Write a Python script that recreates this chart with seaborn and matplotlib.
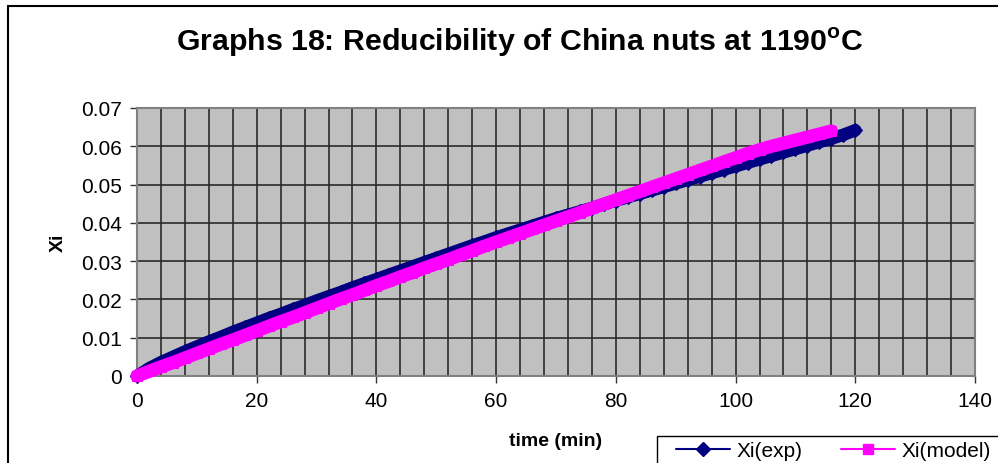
import matplotlib
matplotlib.use("Agg")
import matplotlib.pyplot as plt
import seaborn as sns
import pandas as pd
from matplotlib.ticker import MultipleLocator, FuncFormatter
from matplotlib.lines import Line2D
from matplotlib.patches import Rectangle

# ---- data ----
time_exp = [0, 2, 4, 6, 8, 10, 12, 14, 16, 18, 20, 22, 24, 26, 28, 30, 32, 34, 36, 38,
            40, 42, 44, 46, 48, 50, 52, 54, 56, 58, 60, 62, 64, 66, 68, 70, 72, 74, 76, 78,
            80, 82, 84, 86, 88, 90, 92, 94, 96, 98, 100, 102, 104, 106, 108, 110, 112, 114,
            116, 118, 120]
xi_exp = [0.0000, 0.0020, 0.0036, 0.0050, 0.0064, 0.0077, 0.0090, 0.0102, 0.0115, 0.0127,
          0.0139, 0.0151, 0.0162, 0.0174, 0.0185, 0.0197, 0.0208, 0.0219, 0.0231, 0.0242,
          0.0253, 0.0264, 0.0275, 0.0286, 0.0297, 0.0308, 0.0319, 0.0330, 0.0341, 0.0351,
          0.0362, 0.0372, 0.0382, 0.0392, 0.0402, 0.0412, 0.0421, 0.0430, 0.0439, 0.0449,
          0.0458, 0.0467, 0.0476, 0.0485, 0.0494, 0.0503, 0.0512, 0.0521, 0.0530, 0.0539,
          0.0548, 0.0557, 0.0566, 0.0575, 0.0584, 0.0593, 0.0602, 0.0611, 0.0620, 0.0630,
          0.0642]

time_model = [0, 2, 4, 6, 8, 10, 12, 14, 16, 18, 20, 22, 24, 26, 28, 30, 32, 34, 36, 38,
              40, 42, 44, 46, 48, 50, 52, 54, 56, 58, 60, 62, 64, 66, 68, 70, 72, 74, 76, 78,
              80, 82, 84, 86, 88, 90, 92, 94, 96, 98, 100, 102, 104, 106, 108, 110, 112, 114,
              116]
xi_model = [0.0000, 0.0012, 0.0024, 0.0035, 0.0047, 0.0059, 0.0071, 0.0083, 0.0094, 0.0106,
            0.0118, 0.0130, 0.0142, 0.0153, 0.0165, 0.0177, 0.0189, 0.0201, 0.0212, 0.0224,
            0.0236, 0.0247, 0.0259, 0.0270, 0.0282, 0.0293, 0.0304, 0.0316, 0.0327, 0.0339,
            0.0350, 0.0361, 0.0372, 0.0383, 0.0394, 0.0405, 0.0416, 0.0427, 0.0438, 0.0449,
            0.0460, 0.0471, 0.0482, 0.0493, 0.0504, 0.0515, 0.0526, 0.0537, 0.0548, 0.0559,
            0.0570, 0.0581, 0.0591, 0.0600, 0.0608, 0.0616, 0.0624, 0.0632, 0.0640]

x_ticks = [0, 20, 40, 60, 80, 100, 120, 140]
y_ticks = [0, 0.01, 0.02, 0.03, 0.04, 0.05, 0.06, 0.07]
series_names = ["Xi(exp)", "Xi(model)"]
title_text = r"Graphs 18: Reducibility of China nuts at 1190$^{\mathbf{o}}$C"
x_label = "time (min)"
y_label = "Xi"

df_exp = pd.DataFrame({"time": time_exp, "Xi": xi_exp})
df_model = pd.DataFrame({"time": time_model, "Xi": xi_model})

sns.set_theme(style="white")
plt.rcParams["font.family"] = ["Liberation Sans", "DejaVu Sans"]
plt.rcParams["mathtext.fontset"] = "custom"
plt.rcParams["mathtext.bf"] = "Liberation Sans:bold"
plt.rcParams["mathtext.rm"] = "Liberation Sans"
for k in ["text.color", "axes.labelcolor", "xtick.color", "ytick.color"]:
    plt.rcParams[k] = "black"

W, H = 998, 464
fig = plt.figure(figsize=(W / 100, H / 100), dpi=100)
fig.patch.set_facecolor("white")

# outer chart border (left and top visible, rest cropped)
fig.patches.append(Rectangle((8 / W, -0.5), 3.0, (H - 6.5) / H + 0.5, transform=fig.transFigure,
                             fill=False, edgecolor="black", linewidth=1.5))

L, R, T, B = 137, 975, 109, 377
ax = fig.add_axes([L / W, (H - B) / H, (R - L) / W, (B - T) / H])
ax.set_facecolor("#C0C0C0")

NAVY = "#000080"
MAG = "#FF00FF"
sns.lineplot(data=df_exp, x="time", y="Xi", ax=ax, color=NAVY, marker="D",
             markersize=7, markeredgecolor=NAVY, linewidth=9, zorder=3, clip_on=False)
sns.lineplot(data=df_model, x="time", y="Xi", ax=ax, color=MAG, marker="s",
             markersize=7, markeredgecolor=MAG, linewidth=9.5, zorder=4, clip_on=False)

ax.set_xlim(0, 140)
ax.set_ylim(0, 0.07)
ax.set_xticks(x_ticks)
ax.set_yticks(y_ticks)
ax.xaxis.set_minor_locator(MultipleLocator(4))
ax.yaxis.set_major_formatter(FuncFormatter(lambda v, p: f"{v:g}"))
ax.grid(which="major", axis="y", color="#2a2a2a", linewidth=1.2)
ax.grid(which="both", axis="x", color="#2a2a2a", linewidth=1.2)
ax.set_axisbelow(True)
ax.tick_params(axis="both", which="major", direction="out", length=5, width=1,
               color="#333333", labelsize=15, pad=6, bottom=True, left=True)
ax.tick_params(axis="x", which="minor", length=0)
for s in ax.spines.values():
    s.set_color("#808080")
    s.set_linewidth(1.5)

ax.set_xlabel(x_label, fontsize=14, fontweight="bold", labelpad=16)
ax.set_ylabel(y_label, fontsize=14, fontweight="bold", labelpad=10)

fig.text(520 / W, 1 - 42 / H, title_text, ha="center", va="center",
         fontsize=21.8, fontweight="bold")

# legend frame (extends past the cropped figure edge)
fig.patches.append(Rectangle((657 / W, -0.5), 3.0, 0.5 + (H - 437) / H,
                             transform=fig.transFigure, fill=False,
                             edgecolor="black", linewidth=1.0))
handles = [Line2D([0], [0], color=NAVY, marker="D", markersize=7, linewidth=1.5),
           Line2D([0], [0], color=MAG, marker="s", markersize=7, linewidth=1.5)]
leg = fig.legend(handles, series_names, loc="center left",
                 bbox_to_anchor=(676 / W, 1 - 452 / H), ncol=2, fontsize=15,
                 frameon=False, borderpad=0, handlelength=2.6,
                 columnspacing=1.85, handletextpad=0.3, borderaxespad=0)

fig.savefig("out.png", dpi=100)
